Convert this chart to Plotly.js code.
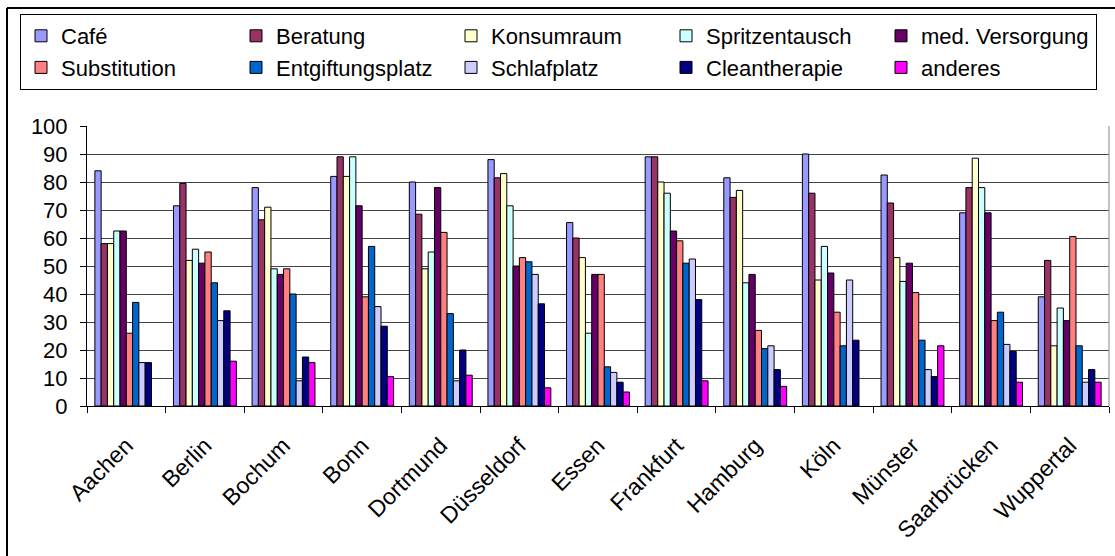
<!DOCTYPE html>
<html>
<head>
<meta charset="utf-8">
<script src="https://cdn.plot.ly/plotly-3.0.1.min.js"></script>
<style>
    body { margin: 0; background: #fff; }
    #bar-chart { width: 1115px; height: 556px; }
</style>
</head>
<body>
<div id="bar-chart"></div>
<script>
// Städte (x-Achse)
const cities = ['Aachen', 'Berlin', 'Bochum', 'Bonn', 'Dortmund', 'Düsseldorf', 'Essen',
    'Frankfurt', 'Hamburg', 'Köln', 'Münster', 'Saarbrücken', 'Wuppertal'];

// Werte pro Angebot (%)
const cafe = [84, 71.5, 78, 82, 80, 88, 65.5, 89, 81.5, 90, 82.5, 69, 39];
const beratung = [58, 79.5, 66.5, 89, 68.5, 81.5, 60, 89, 74.5, 76, 72.5, 78, 52];
const konsumraum = [58, 52, 71, 82, 49, 83, 53, 80, 77, 45, 53, 88.5, 21.5];
const spritzentausch = [62.5, 56, 49, 89, 55, 71.5, 26, 76, 44, 57, 44.5, 78, 35];
const medVersorgung = [62.5, 51, 47, 71.5, 78, 50, 47, 62.5, 47, 47.5, 51, 69, 30.5];
const substitution = [26, 55, 49, 39, 62, 53, 47, 59, 27, 33.5, 40.5, 30.5, 60.5];
const entgiftungsplatz = [37, 44, 40, 57, 33, 51.5, 14, 51, 20.5, 21.5, 23.5, 33.5, 21.5];
const schlafplatz = [15.5, 30.5, 9, 35.5, 9, 47, 12, 52.5, 21.5, 45, 13, 22, 8.5];
const cleantherapie = [15.5, 34, 17.5, 28.5, 20, 36.5, 8.5, 38, 13, 23.5, 10.5, 19.5, 13];
const anderes = [null, 16, 15.5, 10.5, 11, 6.5, 5, 9, 7, null, 21.5, 8.5, 8.5];

const seriesNames = ['Café', 'Beratung', 'Konsumraum', 'Spritzentausch', 'med. Versorgung',
    'Substitution', 'Entgiftungsplatz', 'Schlafplatz', 'Cleantherapie', 'anderes'];
const seriesValues = [cafe, beratung, konsumraum, spritzentausch, medVersorgung,
    substitution, entgiftungsplatz, schlafplatz, cleantherapie, anderes];
const seriesColors = ['#9999FF', '#993366', '#FFFFCC', '#CCFFFF', '#660066',
    '#FF8080', '#0066CC', '#CCCCFF', '#000080', '#FF00FF'];

function drawChart() {
    const font = 'Liberation Sans, Arial, sans-serif';

    const barData = seriesNames.map((name, i) => ({
        x: cities,
        y: seriesValues[i],
        name: name,
        type: 'bar',
        marker: { color: seriesColors[i], line: { color: '#000', width: 1 } },
        hoverinfo: 'x+y+name'
    }));

    // Pixel -> paper Umrechnung für den äußeren Rahmen
    const L = 87, R = 6, T = 126, B = 150;
    const W = 1115 - L - R, H = 556 - T - B;
    const px = v => (v - L) / W;
    const py = v => (556 - B - v) / H;

    const layout = {
        width: 1115,
        height: 556,
        margin: { l: L, r: R, t: T, b: B },
        paper_bgcolor: '#fff',
        plot_bgcolor: '#fff',
        font: { family: font, size: 22, color: '#000' },
        barmode: 'group',
        bargap: 0.2,
        bargroupgap: 0,
        showlegend: true,
        legend: {
            orientation: 'h',
            x: px(20), y: py(14),
            xanchor: 'left', yanchor: 'top',
            bordercolor: '#000', borderwidth: 1,
            bgcolor: '#fff',
            entrywidth: 170, // + Symbol/Abstand = ~215px pro Spalte
            entrywidthmode: 'pixels',
            itemwidth: 30,
            traceorder: 'normal',
            font: { family: font, size: 22, color: '#000' }
        },
        xaxis: {
            type: 'category',
            showline: true, linecolor: '#000', linewidth: 1,
            ticks: 'outside', tickson: 'boundaries', ticklen: 6, tickcolor: '#000',
            tickangle: -45,
            showgrid: false,
            ticklabelstandoff: 16,
            tickfont: { family: font, size: 23 }
        },
        yaxis: {
            range: [0, 100],
            dtick: 10,
            showline: true, linecolor: '#000', linewidth: 1,
            ticks: 'outside', ticklen: 6, tickcolor: '#000',
            showgrid: true, gridcolor: '#444', gridwidth: 1,
            zeroline: false,
            ticklabelstandoff: 8,
            tickfont: { family: font, size: 22 }
        },
        shapes: [
            // Rand des Plotbereichs (rechts)
            { type: 'line', xref: 'paper', yref: 'paper', x0: 1, x1: 1, y0: 0, y1: 1,
              line: { color: '#888', width: 1 } },
            // äußerer Rahmen (oben, links)
            { type: 'line', xref: 'paper', yref: 'paper', x0: px(7), x1: px(1115), y0: py(8), y1: py(8),
              line: { color: '#000', width: 2 } },
            { type: 'line', xref: 'paper', yref: 'paper', x0: px(7), x1: px(7), y0: py(8), y1: py(556),
              line: { color: '#000', width: 2 } }
        ]
    };

    Plotly.newPlot('bar-chart', barData, layout, { displayModeBar: false, staticPlot: true });
}

drawChart();
</script>
</body>
</html>
